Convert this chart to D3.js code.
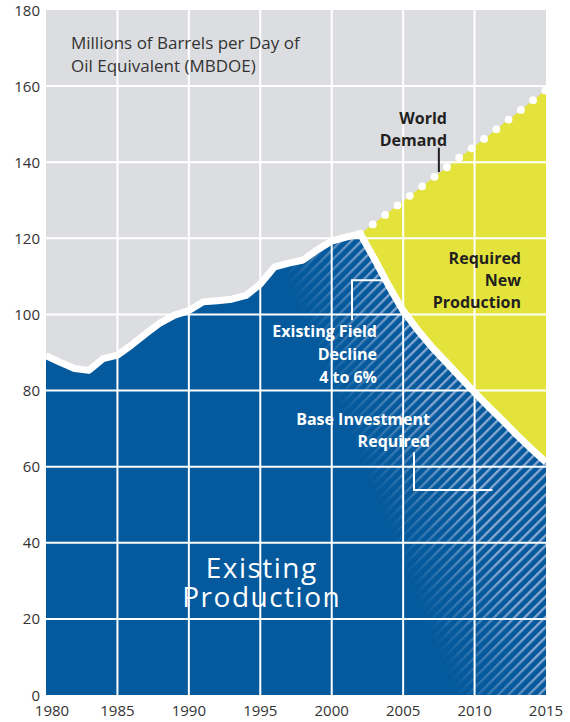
<!DOCTYPE html>
<html><head><meta charset="utf-8">
<script src="https://cdn.jsdelivr.net/npm/d3@7"></script>
<style>
html,body{margin:0;padding:0;background:#fff;}
svg{display:block;font-family:"Open Sans","Noto Sans",sans-serif;}
</style></head>
<body>
<svg id="chart" width="570" height="722"></svg>
<script>
// ---- data ----
const historyYears = [1980,1981,1982,1983,1984,1985,1986,1987,1988,1989,1990,1991,1992,1993,1994,1995,1996,1997,1998,1999,2000,2001,2002];
const historyValues = [89.2,87.4,85.8,85.3,88.4,89.3,92,95,97.8,99.8,101,103.3,103.6,104,105,108,112.5,113.5,114.3,117,119.3,120.3,121.2];
const forecastYears = [2003,2004,2005,2006,2007,2008,2009,2010,2011,2012,2013,2014,2015];
const forecastValues = [114.5,107.5,101,96,91.5,87.5,83.5,79.5,75.7,72,68.2,64.6,61.2];
const demandYears = [2002,2003,2004,2005,2006,2007,2008,2009,2010,2011,2012,2013,2014,2015];
const demandValues = [121.2,124,126.9,129.8,132.7,135.6,138.5,141.4,144.2,147.1,150.1,153,156,159];
const xTicks = [1980,1985,1990,1995,2000,2005,2010,2015];
const yTicks = [0,20,40,60,80,100,120,140,160,180];
const titleLines = ["Millions of Barrels per Day of","Oil Equivalent (MBDOE)"];

// ---- setup ----
const W = 570, H = 722;
const margin = {left:46, right:24, top:10, bottom:27};
const x = d3.scaleLinear().domain([1980,2015]).range([margin.left, W - margin.right]);
const y = d3.scaleLinear().domain([0,180]).range([H - margin.bottom, margin.top]);

const C = {gray:"#dcdde0", blue:"#045a9d", yellow:"#e3e33c", hatch:"#8aa8d1", text:"#231f20", axis:"#333"};

const svg = d3.select("#chart");
const defs = svg.append("defs");

const production = historyYears.map((yr,i)=>({year:yr, v:historyValues[i]}))
  .concat(forecastYears.map((yr,i)=>({year:yr, v:forecastValues[i]})));
const prodByYear = new Map(production.map(d=>[d.year,d.v]));
const demand = demandYears.map((yr,i)=>({year:yr, v:demandValues[i], p:prodByYear.get(yr)}));

// clip
defs.append("clipPath").attr("id","plotClip").append("rect")
  .attr("x", x(1980)).attr("y", y(180)).attr("width", x(2015)-x(1980)).attr("height", y(0)-y(180));

// hatch pattern
const pat = defs.append("pattern").attr("id","hatch").attr("patternUnits","userSpaceOnUse")
  .attr("width",7.2).attr("height",20).attr("patternTransform","rotate(45)");
pat.append("rect").attr("x",0).attr("y",0).attr("width",2.3).attr("height",20).attr("fill",C.hatch);

// gradient mask for hatch (fades toward lower-left)
const A = [x(1997.5), y(120)], B = [x(2010.5), y(0)];
const d = [B[0]-A[0], B[1]-A[1]];
const len = Math.hypot(d[0], d[1]);
const n = [d[1]/len, -d[0]/len];
const M = [(A[0]+B[0])/2, (A[1]+B[1])/2];
const grad = defs.append("linearGradient").attr("id","fadeGrad").attr("gradientUnits","userSpaceOnUse")
  .attr("x1", M[0]-25*n[0]).attr("y1", M[1]-25*n[1])
  .attr("x2", M[0]+65*n[0]).attr("y2", M[1]+65*n[1]);
grad.append("stop").attr("offset",0).attr("stop-color","#000");
grad.append("stop").attr("offset",1).attr("stop-color","#fff");
defs.append("mask").attr("id","fadeMask").attr("maskUnits","userSpaceOnUse")
  .attr("x",0).attr("y",0).attr("width",W).attr("height",H)
  .append("rect").attr("x",0).attr("y",0).attr("width",W).attr("height",H).attr("fill","url(#fadeGrad)");

const plot = svg.append("g").attr("clip-path","url(#plotClip)");

// background
plot.append("rect").attr("x", x(1980)).attr("y", y(180)).attr("width", x(2015)-x(1980)).attr("height", y(0)-y(180)).attr("fill", C.gray);

// yellow area
plot.append("path").datum(demand)
  .attr("d", d3.area().x(d=>x(d.year)).y0(d=>y(d.p)).y1(d=>y(d.v)))
  .attr("fill", C.yellow);

// blue area
const blueArea = d3.area().x(d=>x(d.year)).y0(y(0)).y1(d=>y(d.v));
plot.append("path").datum(production).attr("d", blueArea).attr("fill", C.blue);

// hatch
plot.append("g").attr("mask","url(#fadeMask)")
  .append("path").datum(production).attr("d", blueArea).attr("fill","url(#hatch)");

// grid
plot.append("g").selectAll("line.v").data(xTicks.slice(1,-1)).join("line")
  .attr("x1", d=>x(d)).attr("x2", d=>x(d)).attr("y1", y(0)).attr("y2", y(180))
  .attr("stroke","#fff").attr("stroke-width",2);
plot.append("g").selectAll("line.h").data(yTicks.slice(1,-1)).join("line")
  .attr("y1", d=>y(d)).attr("y2", d=>y(d)).attr("x1", x(1980)).attr("x2", x(2015))
  .attr("stroke","#fff").attr("stroke-width",2);

// production line
plot.append("path").datum(production)
  .attr("d", d3.line().x(d=>x(d.year)).y(d=>y(d.v)))
  .attr("fill","none").attr("stroke","#fff").attr("stroke-width",7).attr("stroke-linejoin","round");

// demand dots
const demandPath = plot.append("path").datum(demand)
  .attr("d", d3.line().x(d=>x(d.year)).y(d=>y(d.v)))
  .attr("fill","none").attr("stroke","none");
const total = demandPath.node().getTotalLength();
const step = 15.6;
const dots = d3.range(0, total, step).map(l=>demandPath.node().getPointAtLength(l));
plot.append("g").selectAll("circle").data(dots).join("circle")
  .attr("cx", p=>p.x).attr("cy", p=>p.y).attr("r",3.9).attr("fill","#fff");

// axes labels
const axG = svg.append("g").attr("font-size",15).attr("fill",C.axis);
axG.selectAll("text.y").data(yTicks).join("text")
  .attr("x", x(1980)-6).attr("y", d=>y(d)).attr("dy","0.37em").attr("text-anchor","end").text(d=>d);
axG.selectAll("text.x").data(xTicks).join("text")
  .attr("x", d=>x(d)+ (d===1980?6:0)).attr("y", y(0)+21).attr("text-anchor","middle").text(d=>d);

// title
svg.append("g").selectAll("text").data(titleLines).join("text")
  .attr("x", x(1981.75)).attr("y",(d,i)=>y(169.7) + i*23)
  .attr("font-size",17).attr("fill",C.axis).text(d=>d);

// annotations
function block(lines, xr, yv, color, opts={}) {
  const g = svg.append("g");
  g.selectAll("text").data(lines).join("text")
    .attr("x", x(xr)).attr("y", (d,i)=>y(yv) + i*(opts.lh||22))
    .attr("text-anchor", opts.anchor||"end")
    .attr("font-size", opts.size||16).attr("font-weight", opts.weight||700)
    .attr("letter-spacing", opts.ls||0)
    .attr("fill", color).text(d=>d);
}
block(["World","Demand"], 2008.07, 150.0, C.text);
block(["Required","New","Production"], 2013.25, 113.2, C.text, {lh:21.8});
block(["Existing Field","Decline","4 to 6%"], 2003.17, 94.1, "#fff", {lh:23});
block(["Base Investment","Required"], 2006.88, 70.9, "#fff");
block(["Existing","Production"], 1995.1, 30.8, "#fff", {anchor:"middle", size:28, weight:400, lh:29, ls:1.5});

// annotation lines
const ann = svg.append("g").attr("fill","none").attr("stroke-width",2);
ann.append("line").attr("x1", x(2007.5)).attr("x2", x(2007.5)).attr("y1", y(143.8)).attr("y2", y(137.4))
  .attr("stroke", C.text);
ann.append("path").attr("stroke","#fff")
  .attr("d", d3.line()([[x(2001.42), y(98.5)], [x(2001.42), y(109.0)], [x(2003.73), y(109.0)]]));
ann.append("path").attr("stroke","#fff")
  .attr("d", d3.line()([[x(2005.76), y(63.8)], [x(2005.76), y(53.9)], [x(2011.25), y(53.9)]]));
</script>
</body></html>
